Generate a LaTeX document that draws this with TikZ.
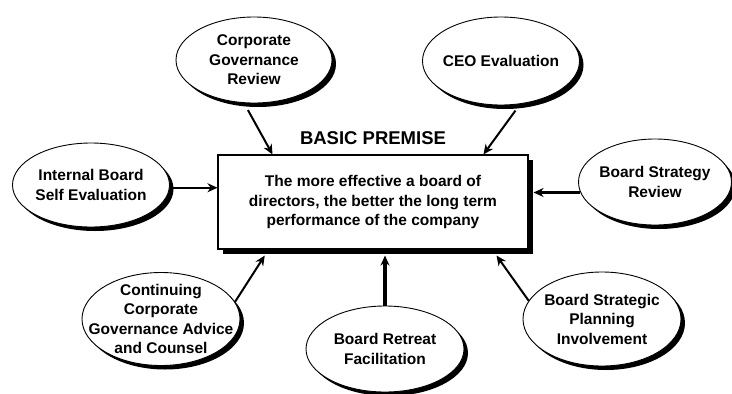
\documentclass[tikz,border=0pt]{standalone}
\usepackage{fontspec}
\setmainfont{Liberation Sans}
\usetikzlibrary{calc}
\usetikzlibrary{positioning}
\usetikzlibrary{shapes.geometric}
\usetikzlibrary{shadows}
\usetikzlibrary{arrows.meta}
\newcommand\bubble[5]{
    \node[oval, minimum width=#3pt, minimum height=#4pt] (#1) at (#2) {};
    \node[ovaltext] (#1txt) at (#1) {#5};
}

\begin{document}
\begin{tikzpicture}[
        x=1pt, y=-1pt,
        oval/.style={ellipse, draw, line width=0.9pt, fill=white, inner sep=0pt,
            drop shadow={shadow xshift=4pt, shadow yshift=-4pt, fill=black, opacity=1}},
        ovaltext/.style={align=center, inner sep=0pt,
            font=\fontsize{15.5}{19.5}\selectfont\bfseries},
        premisebox/.style={draw, line width=1.1pt, fill=white, inner sep=0pt,
            minimum width=310pt, minimum height=94pt, align=center,
            font=\fontsize{15.5}{19.5}\selectfont\bfseries,
            drop shadow={shadow xshift=5pt, shadow yshift=-5pt, fill=black, opacity=1}},
        feed/.style={line width=2pt, -{Stealth[length=10pt, width=9pt]}}
    ]

    \useasboundingbox (0,0) rectangle (732,394);

    \node[premisebox] (premise) at (373,202)
        {The more effective a board of\\directors, the better the long term\\performance of the company};
    \node[above=10pt of premise, inner sep=0pt,
        font=\fontsize{18.5}{22}\selectfont\bfseries] (basic) {BASIC PREMISE};

    \bubble{cgr}{254,60}{156}{86}{Corporate\\Governance\\Review}
    \bubble{ceo}{501,61}{157}{88}{CEO Evaluation}
    \bubble{ibse}{91,185}{157}{84}{Internal Board\\Self Evaluation}
    \bubble{bsr}{655,182}{153}{86}{Board Strategy\\Review}
    \bubble{ccga}{161,319}{158}{93}{Continuing\\Corporate\\Governance Advice\\and Counsel}
    \bubble{brf}{385,349}{158}{86}{Board Retreat\\Facilitation}
    \bubble{bspi}{602,319}{158}{94}{Board Strategic\\Planning\\Involvement}

    \draw[feed, shorten <=8pt] (cgr.257) -- ($(premise.north west)!0.177!(premise.north east)$);
    \draw[feed, shorten <=8pt] (ceo.294) -- ($(premise.north west)!0.855!(premise.north east)$);
    \draw[feed, line width=2.5pt] (ibse.358) -- (premise.west |- ibse.358);
    \draw[feed, line width=2.5pt] (bsr.188) -- ($(premise.east |- bsr.188)+(5,0)$);
    \draw[feed] (ccga.13) -- ($(premise.south west)!0.152!(premise.south east)+(0,6)$);
    \draw[feed, line width=3.5pt] (brf.north) -- ($(brf.north |- premise.south)+(0,6)$);
    \draw[feed] (bspi.166) -- ($(premise.south west)!0.897!(premise.south east)+(0,6)$);
\end{tikzpicture}
\end{document}
